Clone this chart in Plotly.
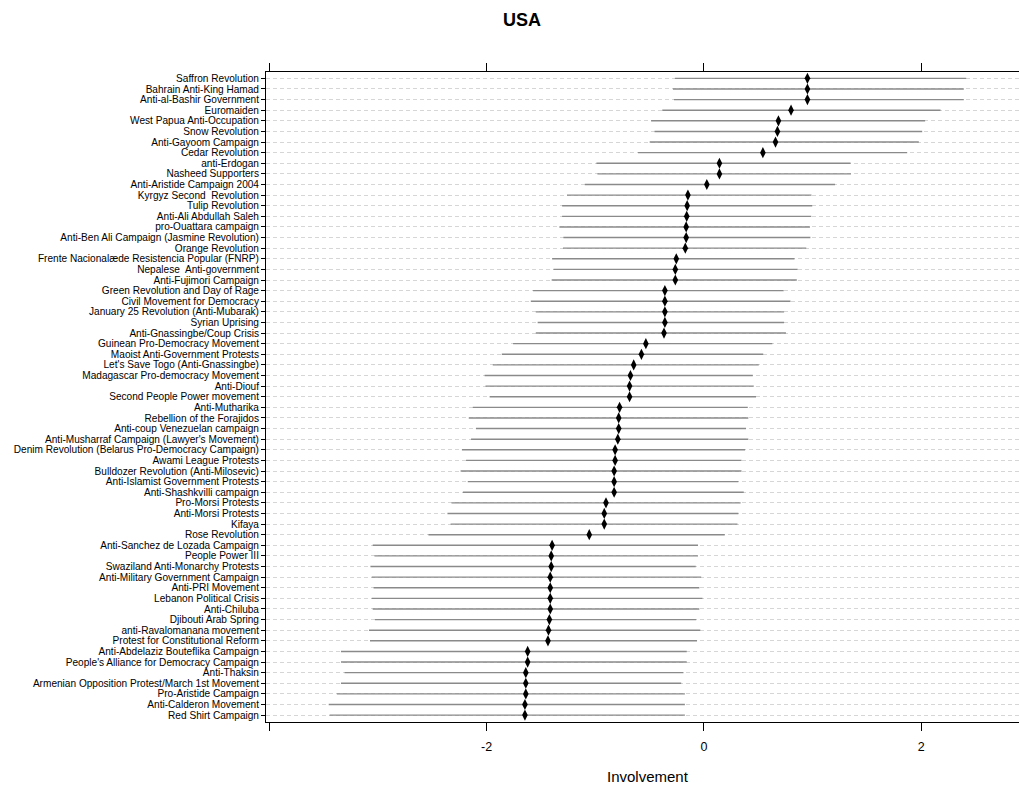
import plotly.graph_objects as go

campaigns = [
    "Saffron Revolution", "Bahrain Anti-King Hamad", "Anti-al-Bashir Government", "Euromaiden",
    "West Papua Anti-Occupation", "Snow Revolution", "Anti-Gayoom Campaign", "Cedar Revolution",
    "anti-Erdogan", "Nasheed Supporters", "Anti-Aristide Campaign 2004", "Kyrgyz Second  Revolution",
    "Tulip Revolution", "Anti-Ali Abdullah Saleh", "pro-Ouattara campaign",
    "Anti-Ben Ali Campaign (Jasmine Revolution)", "Orange Revolution",
    "Frente Nacionalæde Resistencia Popular (FNRP)", "Nepalese  Anti-government",
    "Anti-Fujimori Campaign", "Green Revolution and Day of Rage", "Civil Movement for Democracy",
    "January 25 Revolution (Anti-Mubarak)", "Syrian Uprising", "Anti-Gnassingbe/Coup Crisis",
    "Guinean Pro-Democracy Movement", "Maoist Anti-Government Protests",
    "Let's Save Togo (Anti-Gnassingbe)", "Madagascar Pro-democracy Movement", "Anti-Diouf",
    "Second People Power movement", "Anti-Mutharika", "Rebellion of the Forajidos",
    "Anti-coup Venezuelan campaign", "Anti-Musharraf Campaign (Lawyer's Movement)",
    "Denim Revolution (Belarus Pro-Democracy Campaign)", "Awami League Protests",
    "Bulldozer Revolution (Anti-Milosevic)", "Anti-Islamist Government Protests",
    "Anti-Shashkvilli campaign", "Pro-Morsi Protests", "Anti-Morsi Protests", "Kifaya",
    "Rose Revolution", "Anti-Sanchez de Lozada Campaign", "People Power III",
    "Swaziland Anti-Monarchy Protests", "Anti-Military Government Campaign", "Anti-PRI Movement",
    "Lebanon Political Crisis", "Anti-Chiluba", "Djibouti Arab Spring",
    "anti-Ravalomanana movement", "Protest for Constitutional Reform",
    "Anti-Abdelaziz Bouteflika Campaign", "People's Alliance for Democracy Campaign",
    "Anti-Thaksin", "Armenian Opposition Protest/March 1st Movement", "Pro-Aristide Campaign",
    "Anti-Calderon Movement", "Red Shirt Campaign",
]

estimate = [
    0.953, 0.953, 0.953, 0.802, 0.686, 0.677, 0.659, 0.543, 0.143, 0.143,
    0.027, -0.147, -0.154, -0.158, -0.163, -0.163, -0.171, -0.254, -0.263, -0.263,
    -0.359, -0.359, -0.359, -0.359, -0.367, -0.534, -0.575, -0.646, -0.676, -0.684,
    -0.684, -0.776, -0.784, -0.784, -0.792, -0.817, -0.817, -0.826, -0.826, -0.826,
    -0.901, -0.917, -0.917, -1.055, -1.397, -1.405, -1.405, -1.414, -1.414, -1.414,
    -1.414, -1.422, -1.430, -1.435, -1.622, -1.622, -1.639, -1.639, -1.639, -1.647,
    -1.647,
]

lower = [
    -0.267, -0.285, -0.276, -0.383, -0.486, -0.454, -0.499, -0.606, -0.989, -0.980,
    -1.096, -1.260, -1.305, -1.305, -1.330, -1.293, -1.297, -1.397, -1.384, -1.401,
    -1.572, -1.593, -1.547, -1.530, -1.547, -1.756, -1.860, -1.943, -2.018, -2.010,
    -1.972, -2.127, -2.164, -2.098, -2.143, -2.227, -2.189, -2.239, -2.173, -2.218,
    -2.323, -2.360, -2.331, -2.535, -3.048, -3.032, -3.069, -3.057, -3.040, -3.057,
    -3.048, -3.028, -3.082, -3.073, -3.340, -3.340, -3.307, -3.340, -3.378, -3.453,
    -3.445,
]

upper = [
    2.414, 2.392, 2.392, 2.178, 2.036, 2.009, 1.978, 1.871, 1.350, 1.354,
    1.207, 0.990, 0.997, 0.988, 0.976, 0.980, 0.942, 0.834, 0.863, 0.855,
    0.734, 0.797, 0.738, 0.738, 0.755, 0.630, 0.546, 0.505, 0.450, 0.459,
    0.480, 0.404, 0.409, 0.388, 0.409, 0.379, 0.346, 0.346, 0.317, 0.367,
    0.338, 0.317, 0.309, 0.192, -0.054, -0.054, -0.075, -0.025, -0.042, -0.013,
    -0.042, -0.071, -0.033, -0.063, -0.158, -0.158, -0.188, -0.209, -0.175, -0.175,
    -0.175,
]

x_ticks = [-4, -2, 0, 2]
x_tick_labels = ["", "-2", "0", "2"]

rows = list(range(len(campaigns)))
err_plus = [u - e for u, e in zip(upper, estimate)]
err_minus = [e - l for e, l in zip(estimate, lower)]

fig = go.Figure()
fig.add_trace(go.Scatter(
    x=estimate, y=rows, mode="markers",
    marker=dict(symbol="diamond-tall", size=8, color="black"),
    error_x=dict(type="data", symmetric=False, array=err_plus, arrayminus=err_minus,
                 color="#8a8a8a", thickness=1.4, width=0),
    hovertext=campaigns, showlegend=False,
))

W, H = 1019, 785
L, R, T, B = 266, 0, 72, 63
pw = W - L - R
ph = H - T - B

fig.update_layout(
    width=W, height=H,
    margin=dict(l=L, r=R, t=T, b=B),
    paper_bgcolor="white", plot_bgcolor="white",
    font=dict(family="Liberation Sans, Arial, sans-serif", color="black"),
    title=dict(text="<b>USA</b>", x=522 / W, xanchor="center", y=1 - 20 / H, yanchor="middle",
               font=dict(size=18, family="Liberation Sans, Arial, sans-serif", color="black")),
    xaxis=dict(
        range=[-4.03, 2.90],
        tickvals=x_ticks, ticktext=x_tick_labels,
        ticks="outside", ticklen=8, tickcolor="black", tickwidth=1,
        showline=True, linecolor="black", linewidth=1, mirror="ticks",
        showgrid=False, zeroline=False,
        tickfont=dict(size=12.5, color="black"),
        ticklabelstandoff=5,
    ),
    yaxis=dict(
        range=[60.65, -0.6],
        tickvals=rows, ticktext=campaigns,
        ticks="outside", ticklen=4, tickcolor="black", tickwidth=1,
        showline=True, linecolor="black", linewidth=1, mirror=False,
        showgrid=True, gridcolor="#d6d6d6", gridwidth=1, griddash="4px,3px",
        zeroline=False,
        tickfont=dict(size=10.1, color="black"),
    ),
    annotations=[dict(
        text="Involvement", xref="paper", yref="paper",
        x=(647.5 - L) / pw, y=-(776 - (T + ph)) / ph,
        xanchor="center", yanchor="middle", showarrow=False,
        font=dict(size=15, color="black"),
    )],
)

fig.write_html("out.html", config={"displayModeBar": False},
               post_script="document.body.style.margin='0px';")
